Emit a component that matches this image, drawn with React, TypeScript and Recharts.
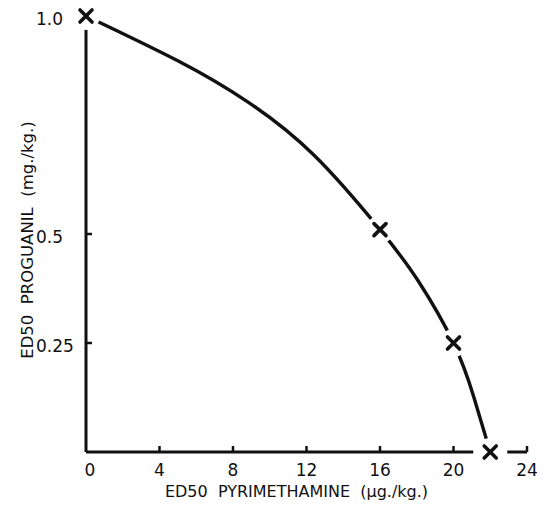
import { ComposedChart, Line, Scatter, XAxis, YAxis } from "recharts";

// ED50 isobologram: pyrimethamine (µg/kg) vs proguanil (mg/kg)
const pyrimethamine = [0, 16, 20, 22];
const proguanil = [1.0, 0.51, 0.25, 0];

// the hand-drawn curve
const curveX = [0, 5.1, 8.8, 12.4, 16, 18.1, 20, 21.1, 22];
const curveY = [1.0, 0.895, 0.803, 0.681, 0.51, 0.391, 0.25, 0.127, 0];

const xTicks = [0, 4, 8, 12, 16, 20, 24];
const yTicks = [0.25, 0.5, 1.0];

const xTitle = "ED50\u00a0\u00a0PYRIMETHAMINE\u00a0\u00a0(\u00b5g./kg.)";
const yTitle = "ED50\u00a0\u00a0PROGUANIL\u00a0\u00a0(mg./kg.)";

const markers = pyrimethamine.map((x, i) => ({ x, y: proguanil[i] }));
const curve = curveX.map((x, i) => ({ x, y: curveY[i] }));

const FONT = "'DejaVu Sans', sans-serif";
const INK = "#111";

const Cross = (props: any) => {
    const { cx, cy, payload } = props;
    if (cx == null || cy == null) return null;
    const onAxis = payload && payload.y === 0;
    return (
        <g>
            <circle cx={cx} cy={cy} r={14} fill="#fff" />
            {onAxis && <rect x={cx - 17} y={cy - 4} width={34} height={8} fill="#fff" />}
            <path
                d={`M${cx - 6},${cy - 6}L${cx + 6},${cy + 6}M${cx - 6},${cy + 6}L${cx + 6},${cy - 6}`}
                stroke={INK}
                strokeWidth={3.6}
                strokeLinecap="round"
            />
        </g>
    );
};

const XTick = (props: any) => {
    const { x, y, payload } = props;
    const v = payload.value;
    return (
        <g>
            {v !== 0 && <line x1={x} y1={y} x2={x} y2={y - 6} stroke={INK} strokeWidth={2.5} />}
            <text x={x + (v === 0 ? 4 : 0)} y={y + 24} textAnchor="middle" fontSize={17} fontFamily={FONT} fill={INK}>
                {v}
            </text>
        </g>
    );
};

const YTick = (props: any) => {
    const { x, y, payload } = props;
    const v = payload.value;
    return (
        <g>
            {v !== 1 && <line x1={x} y1={y} x2={x + 6} y2={y} stroke={INK} strokeWidth={2.5} />}
            <text x={x - 50} y={y + 9} textAnchor="start" fontSize={17} fontFamily={FONT} fill={INK}>
                {v === 1 ? "1.0" : v}
            </text>
        </g>
    );
};

const XTitle = (props: any) => {
    const vb = props.viewBox;
    return (
        <text x={vb.x + vb.width / 2 - 10} y={vb.y + 45} textAnchor="middle" fontSize={16} fontFamily={FONT} fill={INK}>
            {xTitle}
        </text>
    );
};

const YTitle = (props: any) => {
    const vb = props.viewBox;
    const cx = vb.x + 27;
    const cy = vb.y + 224;
    return (
        <text
            x={cx}
            y={cy}
            transform={`rotate(-90 ${cx} ${cy})`}
            textAnchor="middle"
            dominantBaseline="central"
            fontSize={16.5}
            fontFamily={FONT}
            fill={INK}
        >
            {yTitle}
        </text>
    );
};

export default function App() {
    return (
        <div style={{ position: "absolute", left: 0, top: 0, background: "#fff" }}>
            <ComposedChart
                width={545}
                height={506}
                margin={{ top: 16, right: 18, bottom: 0, left: 0 }}
            >
                <XAxis
                    type="number"
                    dataKey="x"
                    domain={[0, 24]}
                    ticks={xTicks}
                    interval={0}
                    height={54}
                    tickSize={0}
                    tickMargin={0}
                    tickLine={false}
                    axisLine={{ stroke: INK, strokeWidth: 3 }}
                    tick={<XTick />}
                    label={{ content: <XTitle /> }}
                />
                <YAxis
                    type="number"
                    dataKey="y"
                    domain={[0, 1]}
                    ticks={yTicks}
                    interval={0}
                    width={86}
                    tickSize={0}
                    tickMargin={0}
                    tickLine={false}
                    axisLine={{ stroke: INK, strokeWidth: 3 }}
                    tick={<YTick />}
                    label={{ content: <YTitle /> }}
                />
                <Line
                    data={curve}
                    dataKey="y"
                    type="natural"
                    stroke={INK}
                    strokeWidth={3.4}
                    dot={false}
                    activeDot={false}
                    isAnimationActive={false}
                />
                <Scatter
                    data={markers}
                    dataKey="y"
                    shape={<Cross />}
                    isAnimationActive={false}
                />
            </ComposedChart>
        </div>
    );
}
